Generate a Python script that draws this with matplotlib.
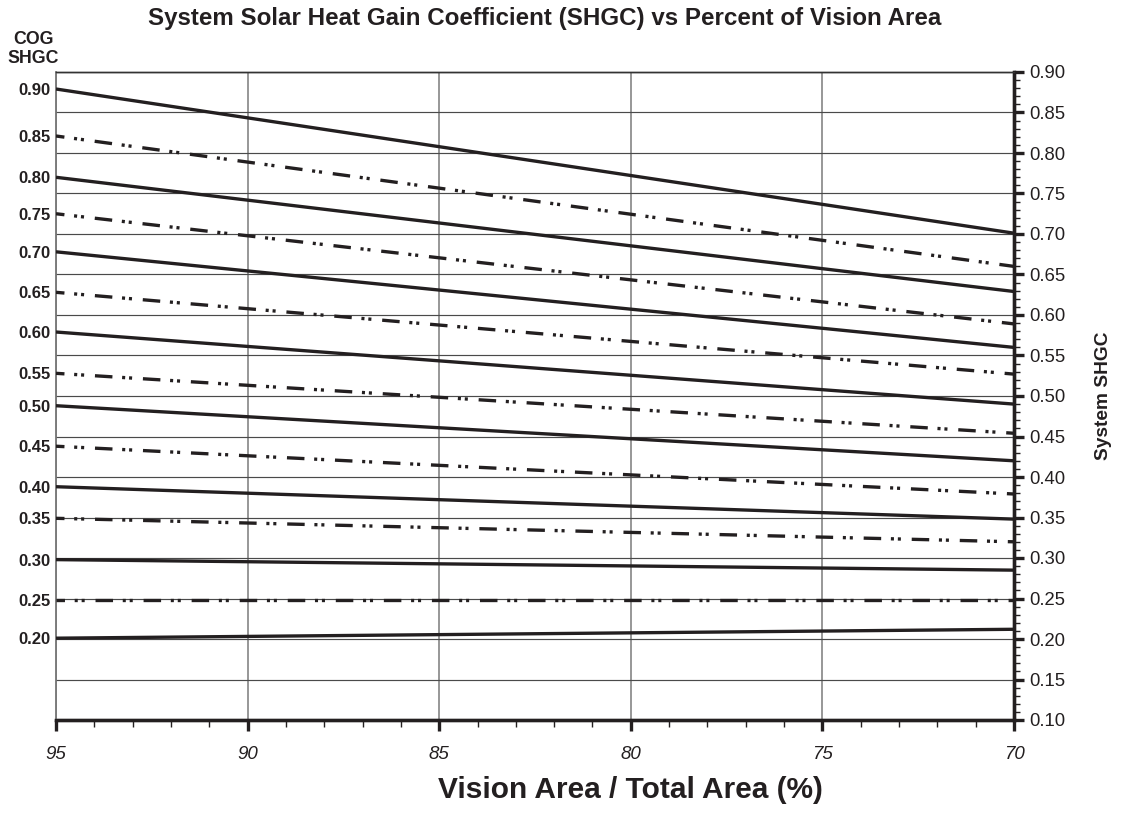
import matplotlib
matplotlib.use("Agg")
import matplotlib.pyplot as plt
from matplotlib.ticker import MultipleLocator, FixedLocator

# ---------------- data ----------------
cog_labels = ["0.90", "0.85", "0.80", "0.75", "0.70", "0.65", "0.60", "0.55",
              "0.50", "0.45", "0.40", "0.35", "0.30", "0.25", "0.20"]
x_points = [95, 70]
shgc_at_95 = [0.879, 0.821, 0.770, 0.725, 0.678, 0.628, 0.579, 0.528,
              0.488, 0.438, 0.388, 0.349, 0.298, 0.248, 0.201]
shgc_at_70 = [0.701, 0.660, 0.629, 0.589, 0.560, 0.527, 0.490, 0.454,
              0.420, 0.379, 0.348, 0.320, 0.285, 0.248, 0.212]
line_styles = ["solid", "dashdotdot"] * 7 + ["solid"]
x_ticks = [95, 90, 85, 80, 75, 70]

INK = "#231f20"
plt.rcParams["font.family"] = ["Liberation Sans", "DejaVu Sans"]
plt.rcParams["lines.scale_dashes"] = False

fig = plt.figure(figsize=(11.28, 8.31), dpi=100)
ax = fig.add_axes([56/1128, 1-720/831, (1014-56)/1128, (720-72)/831])
ax2 = ax.twinx()

ax.set_xlim(95, 70)
ax.set_ylim(0.10, 0.90)
ax2.set_ylim(0.10, 0.90)

# vertical grid (on base axis)
ax.xaxis.set_major_locator(FixedLocator(x_ticks))
ax.xaxis.set_minor_locator(MultipleLocator(1))
ax.grid(axis="x", which="major", color="#858585", lw=1.2)
ax.set_axisbelow(True)

# horizontal grid on twin axis
ax2.yaxis.set_major_locator(MultipleLocator(0.05))
ax2.yaxis.set_minor_locator(MultipleLocator(0.01))
ax2.grid(axis="y", which="major", color="#4a4a4a", lw=0.85)
ax2.set_axisbelow(True)

# data lines
dash_seq = (6.5, [12.6, 7.0, 2.2, 2.8, 2.2, 7.8])
for y0, y1, ls in zip(shgc_at_95, shgc_at_70, line_styles):
    ln, = ax2.plot(x_points, [y0, y1], color=INK, lw=2.4, solid_capstyle="butt",
                   dash_capstyle="butt", zorder=3)
    if ls == "dashdotdot":
        ln.set_linestyle(dash_seq)

# left labels (COG SHGC) at the line start heights
ax.yaxis.set_major_locator(FixedLocator(shgc_at_95))
ax.set_yticklabels(cog_labels, fontweight="bold", fontsize=12, color=INK)
ax.tick_params(axis="y", which="both", length=0, pad=4)
ax.tick_params(axis="x", which="major", direction="out", length=8, width=2.4,
               color=INK, pad=11, labelsize=13.5, labelcolor=INK)
ax.tick_params(axis="x", which="minor", direction="out", length=5, width=1.0, color=INK)
ax.set_xticklabels([str(v) for v in x_ticks], fontstyle="italic")

ax2.tick_params(axis="y", which="major", direction="out", length=7, width=2.4,
                color=INK, pad=4, labelsize=13.3, labelcolor=INK)
ax2.tick_params(axis="y", which="minor", direction="out", length=4.5, width=1.0, color=INK)
ax2.set_yticklabels([f"{v:.2f}" for v in ax2.get_yticks()])
ax2.set_ylim(0.10, 0.90)

for a in (ax, ax2):
    a.spines["left"].set_color("#7a7a7a")
    a.spines["left"].set_linewidth(1.1)
    a.spines["top"].set_color("#333333")
    a.spines["top"].set_linewidth(1.0)
    a.spines["right"].set_color(INK)
    a.spines["right"].set_linewidth(2.4)
    a.spines["bottom"].set_color(INK)
    a.spines["bottom"].set_linewidth(2.4)

# texts
fig.text(545/1128, 1-18/831, "System Solar Heat Gain Coefficient (SHGC) vs Percent of Vision Area",
         ha="center", va="center", fontsize=17.4, fontweight="bold", color=INK)
fig.text(33/1128, 1-49/831, "COG\nSHGC", ha="center", va="center", fontsize=12.8,
         fontweight="bold", color=INK, linespacing=1.1)
fig.text(630/1128, 1-790/831, "Vision Area / Total Area (%)", ha="center", va="center",
         fontsize=21.5, fontweight="bold", color=INK)
fig.text(1103/1128, 1-396/831, "System SHGC", ha="center", va="center", rotation=90,
         fontsize=13.8, fontweight="bold", color=INK)

fig.savefig("out.png", dpi=100)
